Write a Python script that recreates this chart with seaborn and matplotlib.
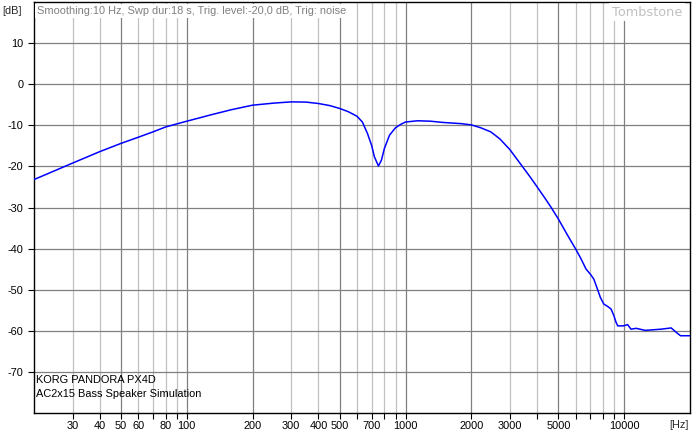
import numpy as np
import pandas as pd
import matplotlib
matplotlib.use("Agg")
import matplotlib.pyplot as plt
import matplotlib.ticker as mticker
import seaborn as sns

sns.set_style("white")
plt.rcParams['font.family'] = ['Liberation Sans', 'DejaVu Sans']
plt.rcParams['axes.unicode_minus'] = False

# frequency response
freq_hz = [20, 25, 30, 40, 50, 60, 70, 80, 100, 130, 160, 200, 250, 300, 350, 400,
           450, 500, 548, 600, 635, 670, 700, 721, 752, 776, 800, 845, 900, 949, 1000,
           1135, 1300, 1479, 1800, 2000, 2208, 2455, 2700, 3000, 3400, 3742, 4000,
           4300, 4624, 5000, 5516, 6000, 6350, 6695, 7000, 7260, 7517, 7785, 8070,
           8420, 8710, 8970, 9190, 9350, 9900, 10370, 10740, 11360, 12470, 14000,
           14790, 16400, 17500, 18100, 20000]
level_db = [-23.2, -21.0, -19.2, -16.4, -14.4, -12.9, -11.6, -10.4, -9.0, -7.4, -6.2,
            -5.1, -4.6, -4.3, -4.35, -4.7, -5.2, -5.9, -6.7, -7.8, -9.2, -12.0, -14.9,
            -17.7, -19.9, -18.5, -15.7, -12.4, -10.6, -9.8, -9.2, -8.9, -9.0, -9.3,
            -9.6, -9.9, -10.6, -11.6, -13.3, -15.9, -19.8, -22.8, -25.0, -27.4,
            -29.9, -32.8, -36.8, -40.1, -42.5, -45.0, -46.2, -47.4, -49.6, -51.9,
            -53.5, -54.1, -54.7, -56.3, -58.0, -58.8, -58.8, -58.5, -59.6, -59.4,
            -59.9, -59.7, -59.6, -59.3, -60.6, -61.2, -61.2]

dark_grid = [50, 100, 200, 500, 1000, 2000, 5000, 10000]
light_grid = [30, 40, 60, 70, 80, 90, 300, 400, 600, 700, 800, 900,
              3000, 4000, 6000, 7000, 8000, 9000]
labeled = [30, 40, 50, 60, 80, 100, 200, 300, 400, 500, 700,
           1000, 2000, 3000, 5000, 10000]
db_ticks = [10, 0, -10, -20, -30, -40, -50, -60, -70]

header = "Smoothing:10 Hz, Swp dur:18 s, Trig. level:-20,0 dB, Trig: noise"
device = "KORG PANDORA PX4D"
preset = "AC2x15 Bass Speaker Simulation"

df = pd.DataFrame({"freq": freq_hz, "level": level_db})

fig = plt.figure(figsize=(6.92, 4.44), dpi=100)
ax = fig.add_axes([34 / 692, 31 / 444, 656 / 692, 411 / 444])

sns.lineplot(data=df, x="freq", y="level", color="#0000FF", linewidth=1.1, ax=ax, zorder=3)

ax.set_xscale("log")
ax.set_xlim(20, 20000)
ax.set_ylim(-80, 20)

ax.xaxis.set_major_locator(mticker.FixedLocator(dark_grid))
ax.xaxis.set_minor_locator(mticker.FixedLocator(light_grid))
fmt = mticker.FuncFormatter(lambda v, p: "%d" % round(v) if round(v) in labeled else "")
ax.xaxis.set_major_formatter(fmt)
ax.xaxis.set_minor_formatter(fmt)
ax.set_yticks(db_ticks)

ax.grid(which="major", axis="x", color="#808080", linewidth=0.9)
ax.grid(which="minor", axis="x", color="#C0C0C0", linewidth=0.9)
ax.grid(which="major", axis="y", color="#808080", linewidth=0.9)
ax.set_axisbelow(True)

for s in ax.spines.values():
    s.set_color("black")
    s.set_linewidth(1.0)

fs = 7.9
ax.tick_params(axis="both", which="both", direction="out", length=4, width=0.8,
               color="black", labelsize=fs, labelcolor="black")
ax.tick_params(axis="x", which="both", pad=2, bottom=True)
ax.tick_params(axis="y", pad=3.5, left=True)
ax.set_xlabel("")
ax.set_ylabel("")

ax.text(3 / 656, 1 - 9 / 411, header, transform=ax.transAxes, fontsize=fs,
        color="#808080", va="center", ha="left", zorder=4,
        bbox=dict(facecolor="white", edgecolor="none", pad=1.5))
ax.text(1 - 8 / 656, 1 - 10 / 411, "Tombstone", transform=ax.transAxes, fontsize=9.3,
        family="DejaVu Sans", color="#C0C0C0", va="center", ha="right", zorder=4,
        bbox=dict(facecolor="white", edgecolor="none", pad=2))
ax.text(2 / 656, (413 - 380) / 411, device, transform=ax.transAxes, fontsize=fs,
        color="black", va="center", ha="left")
ax.text(2 / 656, (413 - 394) / 411, preset, transform=ax.transAxes, fontsize=fs,
        color="black", va="center", ha="left")

fig.text(22 / 692, 1 - 11 / 444, "[dB]", fontsize=fs, ha="right", va="center")
fig.text(689 / 692, 1 - 425 / 444, "[Hz]", fontsize=fs, ha="right", va="center")

fig.savefig("out.png", dpi=100, facecolor="white")
